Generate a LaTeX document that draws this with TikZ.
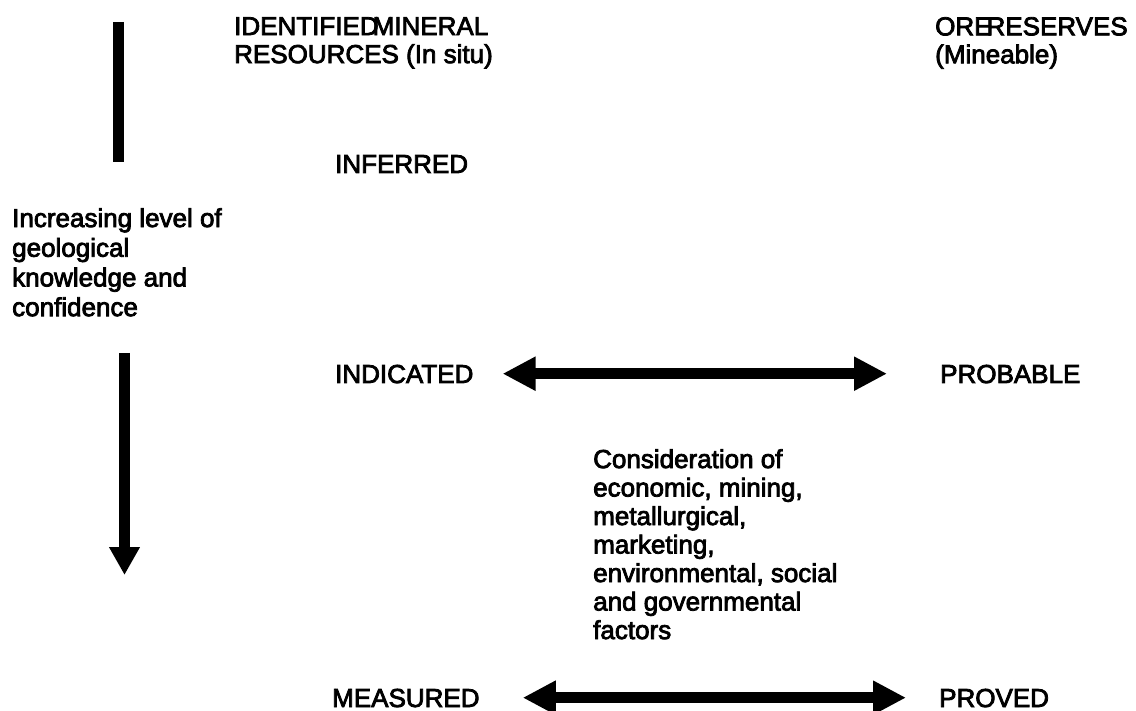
\documentclass[tikz,border=0pt]{standalone}
\usepackage{fontspec}
\setmainfont{Liberation Sans}[BoldFont=Liberation Sans, BoldFeatures={FakeBold=3}]
\usetikzlibrary{arrows.meta}
\begin{document}
\begin{tikzpicture}[x=1pt,y=-1pt,
  lbl/.style={inner sep=0pt, anchor=base west, font=\fontsize{26}{28}\selectfont\bfseries},
  caplbl/.style={lbl, text height=18.6pt, text depth=0pt},
  para/.style={inner sep=0pt, anchor=north west, align=left},
  bar/.style={line width=11pt},
  bigarrow/.style={line width=11pt, {Triangle[width=32pt,length=33pt]}-{Triangle[width=32pt,length=33pt]}},
  downarrow/.style={line width=11pt, -{Triangle[width=29pt,length=28pt]}}]
\fill[white] (0,0) rectangle (1136,711);
\useasboundingbox (0,0) rectangle (1136,711);
% headings
\node[para, font=\fontsize{26}{28}\selectfont\bfseries] (res) at (234,17)
  {IDENTIFIED\kern-6pt MINERAL\\RESOURCES (In situ)};
\node[para, font=\fontsize{26}{28}\selectfont\bfseries] (ore) at (935,17)
  {ORE\kern-5pt RESERVES\\(Mineable)};
% left axis
\coordinate (t1) at (118.5,22);
\coordinate (t2) at (118.5,162);
\draw[bar] (t1) -- (t2);
\node[para, font=\fontsize{26}{29.7}\selectfont\bfseries] (know) at (12,208)
  {Increasing level of\\geological\\knowledge and\\confidence};
\coordinate (a1) at (124.5,353);
\coordinate (a2) at (124.5,575);
\draw[downarrow] (a1) -- (a2);
% categories
\node[caplbl] (inf) at (335,173) {INFERRED};
\node[caplbl] (ind) at (335,383) {INDICATED};
\node[caplbl] (prob) at (940,383) {PROBABLE};
\node[caplbl] (meas) at (332,707) {MEASURED};
\node[caplbl] (prov) at (939,707) {PROVED};
\draw[bigarrow, shorten <=29pt, shorten >=53pt] (ind.east) -- (prob.west);
\draw[bigarrow, shorten <=43pt, shorten >=33pt] (meas.east) -- (prov.west);
% considerations
\node[para, font=\fontsize{26}{28.5}\selectfont\bfseries] (cons) at (593,449)
  {Consideration of\\economic, mining,\\metallurgical,\\marketing,\\environmental, social\\and governmental\\factors};
\end{tikzpicture}
\end{document}
